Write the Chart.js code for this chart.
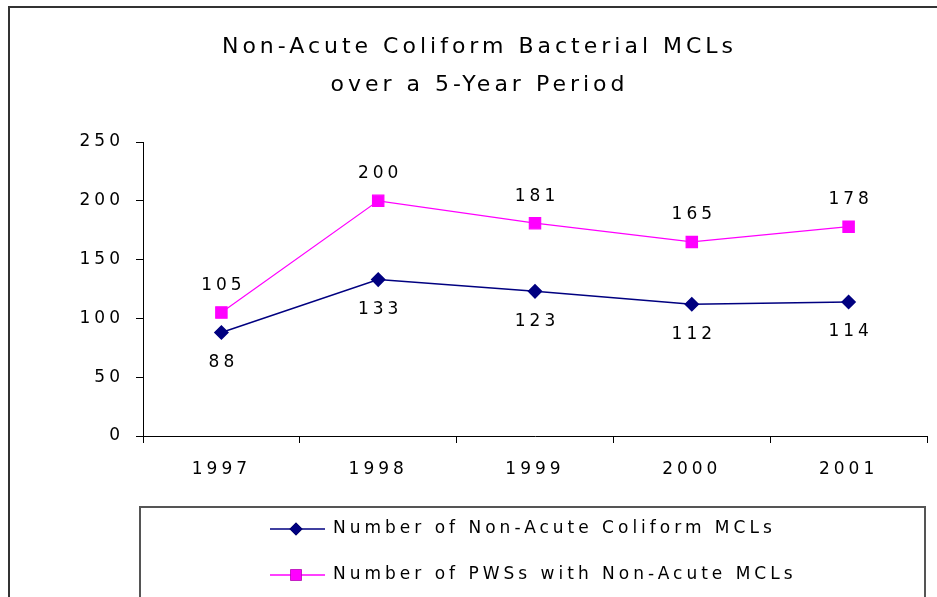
<!DOCTYPE html>
<html>
<head>
<meta charset="utf-8">
<title>Non-Acute Coliform Bacterial MCLs</title>
<script src="https://cdn.jsdelivr.net/npm/chart.js@4.4.0/dist/chart.umd.min.js"></script>
<style>
  body { margin: 0; background: #fff; overflow: hidden; }
  canvas { display: block; }
</style>
</head>
<body>
<canvas id="line-chart1" width="937" height="597"></canvas>
<script>
// data
var years = ["1997", "1998", "1999", "2000", "2001"];
var mcls = [88, 133, 123, 112, 114];   // Number of Non-Acute Coliform MCLs
var pwss = [105, 200, 181, 165, 178];  // Number of PWSs with Non-Acute MCLs
var yTicks = [0, 50, 100, 150, 200, 250];
var titleLines = ["Non-Acute Coliform Bacterial MCLs", "over a 5-Year Period"];
var labelMcls = "Number of Non-Acute Coliform MCLs";
var labelPwss = "Number of PWSs with Non-Acute MCLs";

var fontName = "'DejaVu Sans', sans-serif";
var spacing = "4px";
var navy = "#000080";
var pink = "#FF00FF";

// wide letter spacing like the original, plus the outer frame
var frame = {
  id: "frame",
  beforeLayout: function (chart) { chart.ctx.letterSpacing = spacing; },
  beforeDraw: function (chart) {
    var ctx = chart.ctx;
    ctx.letterSpacing = spacing;
    ctx.save();
    ctx.strokeStyle = "#333";
    ctx.lineWidth = 2;
    ctx.beginPath();
    ctx.moveTo(9, 597);
    ctx.lineTo(9, 7);
    ctx.lineTo(937, 7);
    ctx.stroke();
    ctx.restore();
  }
};

// value labels: pink above the point, navy below
var valueLabels = {
  id: "valueLabels",
  afterDatasetsDraw: function (chart) {
    var ctx = chart.ctx;
    ctx.save();
    ctx.font = "17px " + fontName;
    ctx.letterSpacing = "4px";
    ctx.fillStyle = "#000";
    ctx.textAlign = "center";
    ctx.textBaseline = "middle";
    chart.data.datasets.forEach(function (ds, i) {
      var meta = chart.getDatasetMeta(i);
      var off = i === 0 ? 30 : -27;
      meta.data.forEach(function (pt, j) {
        ctx.fillText(String(ds.data[j]), pt.x + 2, pt.y + off);
      });
    });
    ctx.restore();
  }
};

// legend in a box under the axis, line + marker + text
var boxLegend = {
  id: "boxLegend",
  afterDraw: function (chart) {
    var ctx = chart.ctx;
    ctx.save();
    ctx.strokeStyle = "#555";
    ctx.lineWidth = 2;
    ctx.beginPath();
    ctx.moveTo(140, 597);
    ctx.lineTo(140, 507);
    ctx.lineTo(925, 507);
    ctx.lineTo(925, 597);
    ctx.stroke();
    ctx.font = "17px " + fontName;
    ctx.letterSpacing = "4px";
    ctx.textBaseline = "middle";
    ctx.textAlign = "left";
    var rows = [529, 575];
    chart.data.datasets.forEach(function (ds, i) {
      var y = rows[i];
      ctx.strokeStyle = ds.borderColor;
      ctx.lineWidth = 1.5;
      ctx.beginPath();
      ctx.moveTo(270, y);
      ctx.lineTo(325, y);
      ctx.stroke();
      Chart.helpers.drawPoint(ctx, {
        pointStyle: ds.pointStyle,
        radius: ds.pointRadius,
        borderWidth: 0
      }, 296, y);
      ctx.fillStyle = ds.pointBackgroundColor;
      ctx.fill();
      ctx.fillStyle = "#000";
      ctx.fillText(ds.label, 333, y);
    });
    ctx.restore();
  }
};

new Chart(document.getElementById("line-chart1"), {
  type: "line",
  data: {
    labels: years,
    datasets: [
      {
        label: labelMcls,
        data: mcls,
        borderColor: navy,
        backgroundColor: navy,
        pointBackgroundColor: navy,
        pointBorderColor: navy,
        pointStyle: "rectRot",
        pointRadius: 6.5,
        borderWidth: 1.5,
        tension: 0,
        fill: false
      },
      {
        label: labelPwss,
        data: pwss,
        borderColor: pink,
        backgroundColor: pink,
        pointBackgroundColor: pink,
        pointBorderColor: pink,
        pointStyle: "rect",
        pointRadius: 8,
        borderWidth: 1.2,
        tension: 0,
        fill: false
      }
    ]
  },
  options: {
    responsive: false,
    animation: false,
    // left padding only shifts the title centre; y axis width makes up for it
    layout: { padding: { left: 32, right: 10, top: 0, bottom: 0 } },
    plugins: {
      legend: { display: false },
      tooltip: { enabled: false },
      title: {
        display: true,
        text: titleLines,
        color: "#000",
        font: { family: fontName, size: 22, weight: "normal", lineHeight: 1.75 },
        padding: { top: 28, bottom: 37 }
      }
    },
    scales: {
      x: {
        offset: true,
        grid: { offset: true, drawOnChartArea: false, drawTicks: true, tickLength: 7, color: "#000" },
        border: { display: true, color: "#000", width: 1 },
        ticks: { color: "#000", padding: 16, maxRotation: 0, font: { family: fontName, size: 17 } },
        afterFit: function (scale) { scale.height = 161; }
      },
      y: {
        min: 0,
        max: 250,
        afterBuildTicks: function (scale) {
          scale.ticks = yTicks.map(function (v) { return { value: v }; });
        },
        grid: { drawOnChartArea: false, drawTicks: true, tickLength: 7, color: "#000" },
        border: { display: true, color: "#000", width: 1 },
        ticks: { color: "#000", padding: 12, font: { family: fontName, size: 17 } },
        afterFit: function (scale) { scale.width = 111; }
      }
    }
  },
  plugins: [frame, valueLabels, boxLegend]
});
</script>
</body>
</html>
